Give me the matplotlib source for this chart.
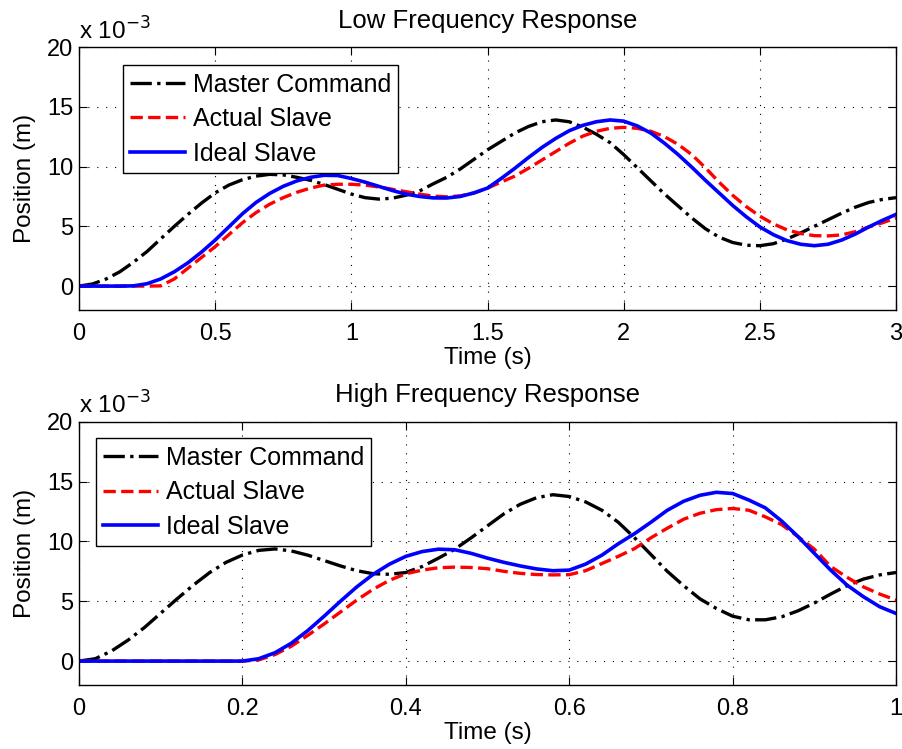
import numpy as np
import matplotlib
matplotlib.use('Agg')
import matplotlib.pyplot as plt

# low frequency test, position in mm (plotted as m)
t_low = np.arange(61) * 0.05
master_low = [0, 0.18, 0.6, 1.2, 2.0, 2.9, 3.95, 5.0, 6.0, 6.95,
              7.8, 8.45, 8.9, 9.2, 9.35, 9.3, 9.1, 8.85, 8.5, 8.1,
              7.7, 7.4, 7.28, 7.35, 7.6, 7.95, 8.55, 9.1, 9.8, 10.6,
              11.4, 12.1, 12.8, 13.35, 13.75, 13.9, 13.75, 13.3, 12.7, 12.0,
              11.0, 9.9, 8.8, 7.7, 6.7, 5.7, 4.8, 4.1, 3.65, 3.42,
              3.38, 3.55, 3.95, 4.45, 5.0, 5.55, 6.1, 6.6, 7.0, 7.25,
              7.4]
actual_low = [0, 0, 0, 0, 0, 0, 0.02, 0.6, 1.5, 2.4,
              3.3, 4.3, 5.3, 6.15, 6.85, 7.4, 7.85, 8.2, 8.45, 8.52,
              8.52, 8.45, 8.3, 8.1, 7.9, 7.7, 7.53, 7.47, 7.55, 7.78,
              8.2, 8.7, 9.2, 9.85, 10.55, 11.25, 11.95, 12.55, 12.95, 13.2,
              13.28, 13.2, 12.95, 12.5, 11.85, 11.0, 9.9, 8.7, 7.6, 6.65,
              5.85, 5.2, 4.7, 4.4, 4.22, 4.2, 4.28, 4.55, 4.95, 5.3,
              5.7]
ideal_low = [0, 0, 0, 0, 0.02, 0.2, 0.6, 1.2, 1.95, 2.85,
             3.85, 4.95, 6.05, 7.0, 7.75, 8.35, 8.8, 9.1, 9.27, 9.25,
             9.0, 8.7, 8.35, 8.0, 7.7, 7.5, 7.38, 7.37, 7.5, 7.8,
             8.2, 9.0, 9.85, 10.75, 11.6, 12.35, 13.0, 13.45, 13.75, 13.9,
             13.8, 13.4, 12.8, 11.95, 11.0, 9.95, 8.85, 7.8, 6.75, 5.8,
             4.95, 4.3, 3.8, 3.5, 3.38, 3.5, 3.85, 4.35, 4.95, 5.5,
             6.0]

# high frequency test
t_high = np.arange(51) * 0.02
master_high = [0, 0.2, 0.85, 1.75, 2.8, 4.0, 5.2, 6.35, 7.4, 8.25,
               8.86, 9.25, 9.37, 9.2, 8.85, 8.4, 7.95, 7.55, 7.3, 7.25,
               7.4, 7.9, 8.6, 9.35, 10.3, 11.3, 12.3, 13.1, 13.65, 13.9,
               13.75, 13.3, 12.6, 11.6, 10.3, 8.9, 7.5, 6.3, 5.2, 4.4,
               3.75, 3.45, 3.45, 3.7, 4.2, 4.85, 5.6, 6.3, 6.85, 7.2,
               7.4]
actual_high = [0, 0, 0, 0, 0, 0, 0, 0, 0, 0,
               0, 0.1, 0.55, 1.25, 2.15, 3.1, 4.1, 5.1, 6.0, 6.75,
               7.3, 7.6, 7.8, 7.85, 7.82, 7.72, 7.5, 7.33, 7.23, 7.2,
               7.22, 7.55, 8.15, 8.75, 9.4, 10.3, 11.1, 11.85, 12.35, 12.65,
               12.75, 12.6, 12.05, 11.4, 10.4, 9.35, 7.9, 7.0, 6.2, 5.6,
               5.1]
ideal_high = [0, 0, 0, 0, 0, 0, 0, 0, 0, 0,
              0, 0.2, 0.7, 1.5, 2.55, 3.75, 5.0, 6.2, 7.25, 8.1,
              8.75, 9.15, 9.35, 9.3, 9.0, 8.6, 8.25, 7.95, 7.7, 7.55,
              7.6, 8.1, 8.85, 9.8, 10.65, 11.6, 12.6, 13.35, 13.85, 14.1,
              14.0, 13.45, 12.8, 11.7, 10.4, 9.0, 7.6, 6.35, 5.38, 4.54,
              3.98]

titles = ['Low Frequency Response', 'High Frequency Response']
labels = ['Master Command', 'Actual Slave', 'Ideal Slave']
y_ticks = [0, 5, 10, 15, 20]

plt.rcParams['font.family'] = ['Liberation Sans', 'DejaVu Sans']

fig = plt.figure(figsize=(9.03, 7.49), dpi=100)
ax1 = fig.add_axes([0.0875, 0.5861, 0.9048, 0.3511])
ax2 = fig.add_axes([0.0875, 0.0854, 0.9048, 0.3516])

panels = [(ax1, t_low, master_low, actual_low, ideal_low, [0, 0.5, 1, 1.5, 2, 2.5, 3], (0.0535, 0.9316)),
          (ax2, t_high, master_high, actual_high, ideal_high, [0, 0.2, 0.4, 0.6, 0.8, 1], (0.0204, 0.937))]

for i, (ax, t, m, a, s, xt, leg_pos) in enumerate(panels):
    ax.plot(t, np.array(m) * 1e-3, 'k-.', lw=2.4, label=labels[0])
    ax.plot(t, np.array(a) * 1e-3, 'r--', lw=2.4, label=labels[1])
    ax.plot(t, np.array(s) * 1e-3, 'b-', lw=2.6, label=labels[2])
    ax.set_xlim(t[0], t[-1])
    ax.set_ylim(-0.002, 0.02)
    ax.set_xticks(xt)
    ax.set_xticklabels([('%g' % v) for v in xt])
    ax.set_yticks([v * 1e-3 for v in y_ticks])
    ax.set_yticklabels([str(v) for v in y_ticks])
    ax.grid(True, color='k', linestyle=(0, (1, 7)), linewidth=0.8)
    ax.tick_params(direction='in', top=True, right=True, labelsize=17, length=6)
    ax.tick_params(axis='x', pad=9)
    ax.tick_params(axis='y', pad=4)
    for sp in ax.spines.values():
        sp.set_linewidth(1.0)
    ax.set_title(titles[i], fontsize=18.5, pad=14)
    ax.set_xlabel('Time (s)', fontsize=17.5, labelpad=2)
    ax.set_ylabel('Position (m)', fontsize=17.5, labelpad=8)
    ax.text(0.0, 1.03, 'x 10$^{-3}$', transform=ax.transAxes, fontsize=17.5,
            ha='left', va='baseline')
    leg = ax.legend(loc='upper left', bbox_to_anchor=leg_pos, borderaxespad=0,
                    fontsize=18, fancybox=False, framealpha=1, edgecolor='k',
                    handlelength=2.2, handletextpad=0.3, labelspacing=0.42,
                    borderpad=0.3)
    leg.get_frame().set_linewidth(1.0)

plt.savefig('out.png', dpi=100)
